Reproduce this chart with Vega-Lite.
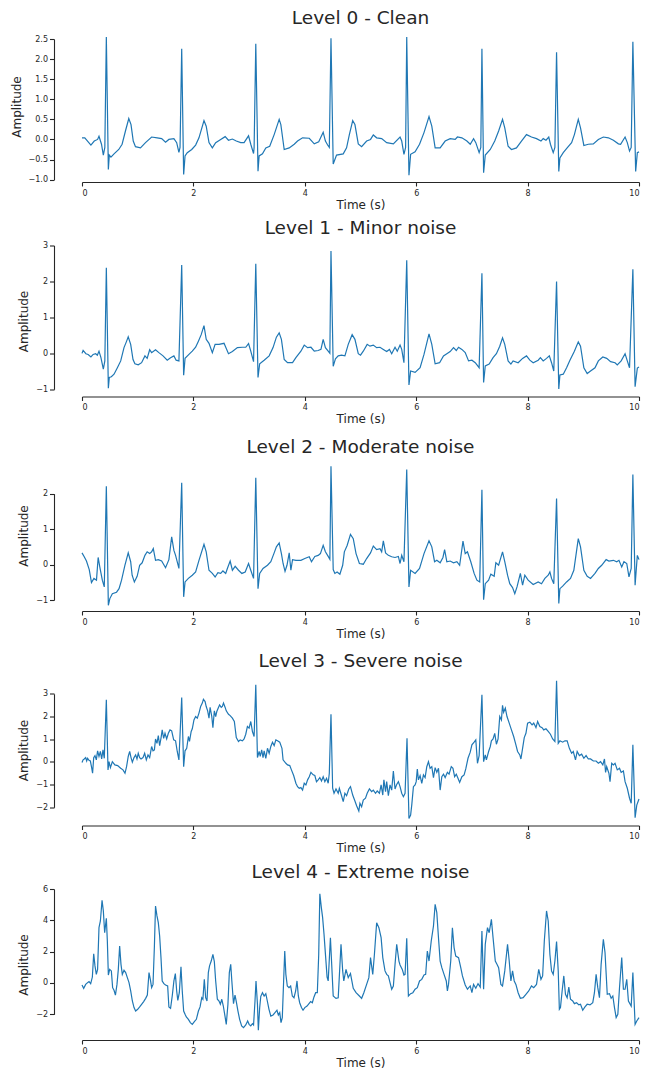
{
"$schema": "https://vega.github.io/schema/vega-lite/v6.json",
"background": "white",
"padding": {"left": 10, "top": 8, "right": 15, "bottom": 5},
"bounds": "flush",
"spacing": 63.5,
"config": {
  "view": {"stroke": null},
  "font": "DejaVu Sans",
  "axis": {"grid": false, "labelFont": "DejaVu Sans", "titleFont": "DejaVu Sans", "labelColor": "#262626", "titleColor": "#262626", "titleFontWeight": "normal", "titleFontSize": 12, "labelFontSize": 8, "tickColor": "#262626", "domainColor": "#262626", "domainWidth": 1.1, "tickWidth": 1.1},
  "axisX": {"tickSize": 4, "labelPadding": 3, "titlePadding": 2},
  "axisY": {"tickSize": 4.5, "labelPadding": 2, "titlePadding": 5, "offset": 28},
  "title": {"fontSize": 18.5, "fontWeight": "normal", "color": "#262626", "font": "DejaVu Sans", "frame": "group", "baseline": "alphabetic", "offset": 4},
  "line": {"color": "#1f77b4", "strokeWidth": 1.2}
},
"datasets": {
"L0": [
{"t":0,"v":0.04},{"t":0.05,"v":0.04},{"t":0.16,"v":-0.14},{"t":0.22,"v":-0.04},{"t":0.28,"v":0.0},{"t":0.305,"v":0.08},{"t":0.35,"v":-0.12},{"t":0.383,"v":-0.39},{"t":0.41,"v":-0.2},{"t":0.437,"v":2.55},{"t":0.473,"v":-0.75},{"t":0.49,"v":-0.39},{"t":0.52,"v":-0.44},{"t":0.575,"v":-0.36},{"t":0.66,"v":-0.25},{"t":0.72,"v":-0.12},{"t":0.78,"v":0.21},{"t":0.84,"v":0.52},{"t":0.88,"v":0.37},{"t":0.92,"v":-0.04},{"t":0.96,"v":-0.18},{"t":1.05,"v":-0.21},{"t":1.14,"v":-0.08},{"t":1.25,"v":0.06},{"t":1.35,"v":0.04},{"t":1.43,"v":0.02},{"t":1.5,"v":-0.07},{"t":1.56,"v":0.0},{"t":1.65,"v":0.02},{"t":1.7,"v":-0.08},{"t":1.74,"v":-0.32},{"t":1.76,"v":-0.2},{"t":1.79,"v":2.26},{"t":1.825,"v":-0.87},{"t":1.85,"v":-0.41},{"t":1.89,"v":-0.33},{"t":1.97,"v":-0.25},{"t":2.04,"v":-0.14},{"t":2.1,"v":0.04},{"t":2.19,"v":0.47},{"t":2.23,"v":0.33},{"t":2.28,"v":-0.08},{"t":2.34,"v":-0.21},{"t":2.4,"v":-0.08},{"t":2.49,"v":0.0},{"t":2.57,"v":0.07},{"t":2.63,"v":-0.02},{"t":2.7,"v":0.01},{"t":2.77,"v":-0.04},{"t":2.85,"v":-0.08},{"t":2.91,"v":-0.08},{"t":2.99,"v":0.09},{"t":3.03,"v":-0.12},{"t":3.08,"v":-0.35},{"t":3.09,"v":-0.2},{"t":3.12,"v":2.38},{"t":3.16,"v":-0.79},{"t":3.18,"v":-0.41},{"t":3.24,"v":-0.36},{"t":3.3,"v":-0.21},{"t":3.37,"v":-0.17},{"t":3.45,"v":0.12},{"t":3.54,"v":0.5},{"t":3.57,"v":0.37},{"t":3.63,"v":-0.25},{"t":3.72,"v":-0.21},{"t":3.81,"v":-0.12},{"t":3.87,"v":-0.04},{"t":3.96,"v":0.04},{"t":4.08,"v":0.03},{"t":4.17,"v":-0.11},{"t":4.25,"v":-0.06},{"t":4.33,"v":0.18},{"t":4.37,"v":-0.04},{"t":4.41,"v":-0.14},{"t":4.44,"v":-0.2},{"t":4.47,"v":2.52},{"t":4.51,"v":-0.61},{"t":4.57,"v":-0.39},{"t":4.69,"v":-0.36},{"t":4.75,"v":-0.21},{"t":4.8,"v":0.12},{"t":4.86,"v":0.47},{"t":4.9,"v":0.37},{"t":4.96,"v":-0.11},{"t":5.02,"v":-0.18},{"t":5.11,"v":-0.04},{"t":5.18,"v":0.0},{"t":5.23,"v":0.11},{"t":5.29,"v":0.04},{"t":5.38,"v":0.02},{"t":5.47,"v":-0.08},{"t":5.59,"v":-0.11},{"t":5.71,"v":0.06},{"t":5.74,"v":-0.04},{"t":5.78,"v":-0.37},{"t":5.81,"v":-0.2},{"t":5.83,"v":2.55},{"t":5.87,"v":-0.89},{"t":5.9,"v":-0.37},{"t":5.98,"v":-0.31},{"t":6.06,"v":-0.12},{"t":6.14,"v":0.17},{"t":6.23,"v":0.57},{"t":6.28,"v":0.33},{"t":6.34,"v":-0.21},{"t":6.43,"v":-0.21},{"t":6.52,"v":-0.04},{"t":6.61,"v":0.02},{"t":6.7,"v":0.0},{"t":6.74,"v":0.06},{"t":6.82,"v":0.04},{"t":6.91,"v":-0.04},{"t":6.97,"v":-0.12},{"t":7.03,"v":0.02},{"t":7.07,"v":-0.08},{"t":7.13,"v":-0.33},{"t":7.16,"v":-0.2},{"t":7.18,"v":2.26},{"t":7.21,"v":-0.83},{"t":7.24,"v":-0.39},{"t":7.33,"v":-0.25},{"t":7.41,"v":-0.04},{"t":7.48,"v":0.21},{"t":7.55,"v":0.5},{"t":7.59,"v":0.29},{"t":7.65,"v":-0.17},{"t":7.71,"v":-0.25},{"t":7.8,"v":-0.21},{"t":7.89,"v":-0.04},{"t":7.98,"v":0.12},{"t":8.07,"v":0.06},{"t":8.16,"v":0.02},{"t":8.24,"v":-0.04},{"t":8.28,"v":0.02},{"t":8.33,"v":-0.02},{"t":8.38,"v":0.06},{"t":8.41,"v":-0.12},{"t":8.46,"v":-0.33},{"t":8.49,"v":-0.2},{"t":8.52,"v":2.17},{"t":8.56,"v":-0.8},{"t":8.58,"v":-0.46},{"t":8.64,"v":-0.33},{"t":8.71,"v":-0.21},{"t":8.79,"v":-0.08},{"t":8.84,"v":0.12},{"t":8.91,"v":0.5},{"t":8.95,"v":0.29},{"t":9.01,"v":-0.15},{"t":9.09,"v":-0.12},{"t":9.18,"v":-0.11},{"t":9.27,"v":0.0},{"t":9.36,"v":0.06},{"t":9.45,"v":0.04},{"t":9.54,"v":-0.02},{"t":9.63,"v":-0.11},{"t":9.67,"v":-0.12},{"t":9.75,"v":0.06},{"t":9.79,"v":-0.08},{"t":9.83,"v":-0.29},{"t":9.86,"v":-0.2},{"t":9.89,"v":2.43},{"t":9.94,"v":-0.8},{"t":9.97,"v":-0.33},{"t":10.0,"v":-0.31}
],
"L1": [
{"t":0,"v":0.0},{"t":0.02,"v":0.08},{"t":0.07,"v":-0.01},{"t":0.11,"v":-0.03},{"t":0.16,"v":-0.1},{"t":0.2,"v":-0.03},{"t":0.245,"v":-0.01},{"t":0.275,"v":-0.05},{"t":0.305,"v":0.06},{"t":0.34,"v":-0.12},{"t":0.383,"v":-0.44},{"t":0.41,"v":-0.21},{"t":0.437,"v":2.38},{"t":0.473,"v":-0.97},{"t":0.49,"v":-0.67},{"t":0.527,"v":-0.65},{"t":0.575,"v":-0.58},{"t":0.635,"v":-0.4},{"t":0.695,"v":-0.21},{"t":0.754,"v":0.16},{"t":0.796,"v":0.32},{"t":0.83,"v":0.46},{"t":0.874,"v":0.25},{"t":0.916,"v":-0.17},{"t":0.95,"v":-0.29},{"t":1.01,"v":-0.32},{"t":1.07,"v":-0.26},{"t":1.13,"v":-0.07},{"t":1.17,"v":-0.14},{"t":1.215,"v":0.1},{"t":1.25,"v":0.02},{"t":1.32,"v":0.1},{"t":1.38,"v":0.02},{"t":1.455,"v":-0.07},{"t":1.53,"v":-0.19},{"t":1.59,"v":-0.12},{"t":1.65,"v":-0.07},{"t":1.69,"v":-0.19},{"t":1.74,"v":-0.21},{"t":1.79,"v":2.46},{"t":1.825,"v":-0.61},{"t":1.85,"v":-0.14},{"t":1.92,"v":-0.03},{"t":1.98,"v":0.06},{"t":2.04,"v":0.17},{"t":2.09,"v":0.34},{"t":2.14,"v":0.52},{"t":2.19,"v":0.77},{"t":2.23,"v":0.39},{"t":2.28,"v":0.28},{"t":2.34,"v":0.02},{"t":2.39,"v":0.25},{"t":2.46,"v":0.25},{"t":2.55,"v":0.28},{"t":2.63,"v":-0.01},{"t":2.7,"v":0.05},{"t":2.79,"v":0.16},{"t":2.88,"v":0.17},{"t":2.94,"v":0.17},{"t":2.99,"v":0.27},{"t":3.03,"v":0.06},{"t":3.08,"v":-0.23},{"t":3.12,"v":2.49},{"t":3.16,"v":-0.67},{"t":3.19,"v":-0.29},{"t":3.27,"v":-0.19},{"t":3.36,"v":-0.07},{"t":3.43,"v":0.16},{"t":3.49,"v":0.45},{"t":3.54,"v":0.57},{"t":3.58,"v":0.39},{"t":3.63,"v":-0.17},{"t":3.69,"v":-0.26},{"t":3.78,"v":-0.26},{"t":3.84,"v":-0.12},{"t":3.93,"v":0.06},{"t":3.99,"v":0.23},{"t":4.05,"v":0.16},{"t":4.11,"v":0.17},{"t":4.17,"v":0.06},{"t":4.24,"v":0.08},{"t":4.29,"v":0.11},{"t":4.33,"v":0.39},{"t":4.37,"v":0.16},{"t":4.42,"v":0.06},{"t":4.45,"v":0.0},{"t":4.47,"v":2.85},{"t":4.51,"v":-0.36},{"t":4.55,"v":-0.15},{"t":4.6,"v":-0.07},{"t":4.66,"v":-0.05},{"t":4.72,"v":-0.07},{"t":4.78,"v":0.25},{"t":4.85,"v":0.52},{"t":4.9,"v":0.39},{"t":4.96,"v":-0.01},{"t":5.0,"v":-0.05},{"t":5.05,"v":0.06},{"t":5.12,"v":0.25},{"t":5.17,"v":0.2},{"t":5.23,"v":0.23},{"t":5.29,"v":0.16},{"t":5.35,"v":0.17},{"t":5.41,"v":0.11},{"t":5.47,"v":0.05},{"t":5.52,"v":0.11},{"t":5.56,"v":-0.01},{"t":5.62,"v":0.17},{"t":5.66,"v":0.06},{"t":5.71,"v":0.23},{"t":5.74,"v":0.11},{"t":5.78,"v":-0.26},{"t":5.83,"v":2.59},{"t":5.87,"v":-0.88},{"t":5.9,"v":-0.49},{"t":5.98,"v":-0.53},{"t":6.07,"v":-0.4},{"t":6.14,"v":-0.03},{"t":6.23,"v":0.54},{"t":6.28,"v":0.25},{"t":6.34,"v":-0.29},{"t":6.42,"v":-0.26},{"t":6.49,"v":-0.07},{"t":6.55,"v":-0.01},{"t":6.61,"v":0.05},{"t":6.67,"v":0.16},{"t":6.72,"v":0.08},{"t":6.76,"v":0.17},{"t":6.82,"v":0.11},{"t":6.88,"v":0.02},{"t":6.94,"v":-0.21},{"t":7.0,"v":-0.19},{"t":7.06,"v":-0.26},{"t":7.13,"v":-0.4},{"t":7.18,"v":2.23},{"t":7.21,"v":-0.81},{"t":7.24,"v":-0.35},{"t":7.31,"v":-0.3},{"t":7.38,"v":-0.12},{"t":7.44,"v":-0.01},{"t":7.5,"v":0.2},{"t":7.55,"v":0.43},{"t":7.59,"v":0.25},{"t":7.65,"v":-0.21},{"t":7.7,"v":-0.3},{"t":7.74,"v":-0.21},{"t":7.83,"v":-0.26},{"t":7.91,"v":-0.14},{"t":7.98,"v":-0.07},{"t":8.04,"v":-0.19},{"t":8.1,"v":-0.26},{"t":8.19,"v":-0.19},{"t":8.23,"v":-0.12},{"t":8.28,"v":-0.21},{"t":8.34,"v":-0.14},{"t":8.39,"v":-0.07},{"t":8.43,"v":-0.26},{"t":8.47,"v":-0.49},{"t":8.52,"v":2.0},{"t":8.56,"v":-0.99},{"t":8.58,"v":-0.6},{"t":8.64,"v":-0.58},{"t":8.7,"v":-0.4},{"t":8.76,"v":-0.19},{"t":8.84,"v":0.06},{"t":8.91,"v":0.32},{"t":8.95,"v":0.2},{"t":9.01,"v":-0.4},{"t":9.07,"v":-0.56},{"t":9.13,"v":-0.49},{"t":9.21,"v":-0.4},{"t":9.27,"v":-0.21},{"t":9.35,"v":-0.1},{"t":9.42,"v":-0.14},{"t":9.49,"v":-0.23},{"t":9.57,"v":-0.26},{"t":9.61,"v":-0.32},{"t":9.68,"v":-0.21},{"t":9.75,"v":-0.01},{"t":9.79,"v":-0.21},{"t":9.83,"v":-0.4},{"t":9.89,"v":2.34},{"t":9.93,"v":-0.93},{"t":9.97,"v":-0.41},{"t":10.0,"v":-0.38}
],
"L2": [
{"t":0,"v":0.33},{"t":0.04,"v":0.22},{"t":0.08,"v":0.1},{"t":0.13,"v":-0.14},{"t":0.17,"v":-0.51},{"t":0.215,"v":-0.39},{"t":0.26,"v":-0.44},{"t":0.29,"v":0.2},{"t":0.32,"v":-0.07},{"t":0.365,"v":-0.44},{"t":0.4,"v":-0.63},{"t":0.437,"v":2.21},{"t":0.473,"v":-1.15},{"t":0.5,"v":-0.96},{"t":0.545,"v":-0.82},{"t":0.62,"v":-0.78},{"t":0.665,"v":-0.68},{"t":0.71,"v":-0.44},{"t":0.77,"v":-0.02},{"t":0.83,"v":0.33},{"t":0.874,"v":0.08},{"t":0.9,"v":-0.3},{"t":0.94,"v":-0.49},{"t":0.99,"v":-0.33},{"t":1.035,"v":-0.02},{"t":1.08,"v":0.05},{"t":1.13,"v":0.26},{"t":1.17,"v":0.36},{"t":1.215,"v":0.31},{"t":1.25,"v":0.36},{"t":1.28,"v":0.45},{"t":1.32,"v":0.12},{"t":1.37,"v":0.14},{"t":1.43,"v":0.1},{"t":1.5,"v":-0.09},{"t":1.56,"v":0.14},{"t":1.61,"v":0.78},{"t":1.65,"v":0.4},{"t":1.68,"v":0.26},{"t":1.74,"v":-0.11},{"t":1.79,"v":2.31},{"t":1.825,"v":-0.91},{"t":1.85,"v":-0.49},{"t":1.91,"v":-0.39},{"t":1.98,"v":-0.3},{"t":2.04,"v":-0.21},{"t":2.1,"v":0.12},{"t":2.19,"v":0.57},{"t":2.23,"v":0.36},{"t":2.28,"v":-0.16},{"t":2.34,"v":-0.25},{"t":2.39,"v":-0.35},{"t":2.44,"v":-0.23},{"t":2.49,"v":-0.25},{"t":2.53,"v":-0.18},{"t":2.58,"v":-0.25},{"t":2.61,"v":-0.11},{"t":2.66,"v":0.1},{"t":2.7,"v":-0.16},{"t":2.75,"v":-0.05},{"t":2.81,"v":-0.16},{"t":2.87,"v":-0.25},{"t":2.93,"v":-0.21},{"t":2.99,"v":0.03},{"t":3.03,"v":-0.16},{"t":3.08,"v":-0.39},{"t":3.12,"v":2.45},{"t":3.16,"v":-0.68},{"t":3.19,"v":-0.25},{"t":3.25,"v":-0.11},{"t":3.33,"v":-0.02},{"t":3.39,"v":0.08},{"t":3.45,"v":0.33},{"t":3.49,"v":0.5},{"t":3.54,"v":0.61},{"t":3.58,"v":0.31},{"t":3.61,"v":0.03},{"t":3.645,"v":-0.19},{"t":3.68,"v":-0.02},{"t":3.72,"v":0.33},{"t":3.75,"v":-0.16},{"t":3.78,"v":0.14},{"t":3.84,"v":0.12},{"t":3.93,"v":0.12},{"t":4.0,"v":0.17},{"t":4.08,"v":0.22},{"t":4.12,"v":0.08},{"t":4.18,"v":0.23},{"t":4.24,"v":0.26},{"t":4.28,"v":0.31},{"t":4.33,"v":0.54},{"t":4.37,"v":0.36},{"t":4.42,"v":0.23},{"t":4.45,"v":0.15},{"t":4.47,"v":2.77},{"t":4.51,"v":-0.14},{"t":4.54,"v":-0.25},{"t":4.58,"v":-0.21},{"t":4.63,"v":-0.27},{"t":4.68,"v":-0.02},{"t":4.71,"v":0.36},{"t":4.76,"v":0.54},{"t":4.82,"v":0.85},{"t":4.87,"v":0.73},{"t":4.92,"v":0.31},{"t":4.98,"v":0.03},{"t":5.05,"v":0.01},{"t":5.11,"v":0.17},{"t":5.18,"v":0.33},{"t":5.23,"v":0.52},{"t":5.29,"v":0.42},{"t":5.35,"v":0.45},{"t":5.38,"v":0.36},{"t":5.41,"v":0.67},{"t":5.45,"v":0.33},{"t":5.5,"v":0.26},{"t":5.56,"v":0.22},{"t":5.62,"v":0.2},{"t":5.68,"v":0.23},{"t":5.71,"v":0.03},{"t":5.74,"v":0.26},{"t":5.78,"v":0.08},{"t":5.83,"v":2.68},{"t":5.87,"v":-0.63},{"t":5.9,"v":-0.16},{"t":5.98,"v":-0.25},{"t":6.06,"v":-0.11},{"t":6.14,"v":0.31},{"t":6.23,"v":0.67},{"t":6.28,"v":0.5},{"t":6.33,"v":0.08},{"t":6.37,"v":0.12},{"t":6.43,"v":0.05},{"t":6.48,"v":0.2},{"t":6.51,"v":0.42},{"t":6.55,"v":0.08},{"t":6.61,"v":0.1},{"t":6.67,"v":0.05},{"t":6.73,"v":0.08},{"t":6.78,"v":-0.02},{"t":6.84,"v":0.66},{"t":6.88,"v":0.31},{"t":6.92,"v":0.36},{"t":6.98,"v":0.08},{"t":7.04,"v":-0.25},{"t":7.09,"v":-0.44},{"t":7.14,"v":-0.49},{"t":7.18,"v":2.11},{"t":7.21,"v":-0.99},{"t":7.24,"v":-0.54},{"t":7.3,"v":-0.44},{"t":7.34,"v":-0.27},{"t":7.4,"v":-0.33},{"t":7.43,"v":0.05},{"t":7.48,"v":-0.02},{"t":7.55,"v":0.36},{"t":7.59,"v":0.08},{"t":7.64,"v":-0.3},{"t":7.68,"v":-0.54},{"t":7.73,"v":-0.65},{"t":7.77,"v":-0.82},{"t":7.81,"v":-0.63},{"t":7.87,"v":-0.25},{"t":7.91,"v":-0.58},{"t":7.95,"v":-0.3},{"t":8.01,"v":-0.44},{"t":8.1,"v":-0.56},{"t":8.19,"v":-0.49},{"t":8.25,"v":-0.54},{"t":8.31,"v":-0.39},{"t":8.37,"v":-0.3},{"t":8.4,"v":-0.21},{"t":8.43,"v":-0.39},{"t":8.47,"v":-0.54},{"t":8.52,"v":1.86},{"t":8.56,"v":-1.1},{"t":8.58,"v":-0.68},{"t":8.63,"v":-0.61},{"t":8.7,"v":-0.49},{"t":8.77,"v":-0.39},{"t":8.83,"v":-0.16},{"t":8.91,"v":0.73},{"t":8.95,"v":0.5},{"t":9.01,"v":-0.16},{"t":9.07,"v":-0.33},{"t":9.13,"v":-0.39},{"t":9.21,"v":-0.25},{"t":9.27,"v":-0.11},{"t":9.33,"v":-0.02},{"t":9.41,"v":0.14},{"t":9.46,"v":0.1},{"t":9.54,"v":0.12},{"t":9.6,"v":0.08},{"t":9.64,"v":0.12},{"t":9.69,"v":-0.07},{"t":9.73,"v":0.08},{"t":9.78,"v":0.03},{"t":9.82,"v":-0.35},{"t":9.86,"v":-0.11},{"t":9.89,"v":2.54},{"t":9.93,"v":-0.58},{"t":9.97,"v":0.26},{"t":10.0,"v":0.14}
],
"L3": [
{"t":0,"v":-0.03},{"t":0.02,"v":0.09},{"t":0.04,"v":0.13},{"t":0.066,"v":0.19},{"t":0.084,"v":0.04},{"t":0.1,"v":0.16},{"t":0.126,"v":0.07},{"t":0.15,"v":0.04},{"t":0.17,"v":-0.21},{"t":0.19,"v":-0.5},{"t":0.21,"v":0.19},{"t":0.233,"v":0.28},{"t":0.257,"v":0.09},{"t":0.28,"v":0.49},{"t":0.305,"v":0.24},{"t":0.33,"v":0.46},{"t":0.353,"v":0.13},{"t":0.377,"v":0.53},{"t":0.4,"v":0.16},{"t":0.437,"v":2.74},{"t":0.467,"v":-0.35},{"t":0.485,"v":0.01},{"t":0.51,"v":-0.25},{"t":0.545,"v":0.01},{"t":0.59,"v":-0.13},{"t":0.64,"v":-0.16},{"t":0.694,"v":-0.28},{"t":0.736,"v":-0.35},{"t":0.772,"v":-0.5},{"t":0.8,"v":-0.21},{"t":0.83,"v":0.24},{"t":0.856,"v":0.46},{"t":0.88,"v":0.19},{"t":0.904,"v":-0.01},{"t":0.934,"v":0.19},{"t":0.963,"v":0.31},{"t":0.987,"v":0.13},{"t":1.01,"v":0.38},{"t":1.035,"v":0.19},{"t":1.06,"v":0.13},{"t":1.095,"v":0.19},{"t":1.125,"v":0.38},{"t":1.155,"v":0.09},{"t":1.185,"v":0.31},{"t":1.215,"v":0.19},{"t":1.25,"v":0.68},{"t":1.275,"v":0.49},{"t":1.3,"v":0.53},{"t":1.32,"v":1.01},{"t":1.346,"v":0.82},{"t":1.37,"v":1.16},{"t":1.394,"v":0.72},{"t":1.42,"v":1.07},{"t":1.44,"v":1.41},{"t":1.466,"v":1.04},{"t":1.49,"v":1.26},{"t":1.52,"v":1.01},{"t":1.55,"v":1.26},{"t":1.58,"v":1.41},{"t":1.61,"v":1.37},{"t":1.646,"v":0.97},{"t":1.68,"v":0.93},{"t":1.71,"v":0.46},{"t":1.74,"v":0.09},{"t":1.79,"v":2.84},{"t":1.825,"v":-0.21},{"t":1.85,"v":0.49},{"t":1.88,"v":0.6},{"t":1.91,"v":1.12},{"t":1.93,"v":0.9},{"t":1.96,"v":1.34},{"t":1.98,"v":1.46},{"t":2.01,"v":1.85},{"t":2.04,"v":2.0},{"t":2.07,"v":1.93},{"t":2.1,"v":2.15},{"t":2.13,"v":2.44},{"t":2.16,"v":2.59},{"t":2.18,"v":2.76},{"t":2.21,"v":2.66},{"t":2.23,"v":2.44},{"t":2.256,"v":2.25},{"t":2.28,"v":1.93},{"t":2.3,"v":2.4},{"t":2.33,"v":2.0},{"t":2.35,"v":1.51},{"t":2.376,"v":2.25},{"t":2.4,"v":2.0},{"t":2.42,"v":2.22},{"t":2.45,"v":2.4},{"t":2.47,"v":2.51},{"t":2.5,"v":2.4},{"t":2.52,"v":2.44},{"t":2.54,"v":2.59},{"t":2.57,"v":2.4},{"t":2.59,"v":2.25},{"t":2.63,"v":2.1},{"t":2.66,"v":2.04},{"t":2.7,"v":1.93},{"t":2.735,"v":1.78},{"t":2.77,"v":1.07},{"t":2.81,"v":0.9},{"t":2.84,"v":0.97},{"t":2.88,"v":0.93},{"t":2.91,"v":1.01},{"t":2.94,"v":1.22},{"t":2.97,"v":1.56},{"t":3.0,"v":1.49},{"t":3.03,"v":1.78},{"t":3.06,"v":1.34},{"t":3.09,"v":1.12},{"t":3.12,"v":3.4},{"t":3.15,"v":0.19},{"t":3.18,"v":0.46},{"t":3.2,"v":0.24},{"t":3.226,"v":0.53},{"t":3.25,"v":0.19},{"t":3.27,"v":0.49},{"t":3.3,"v":0.16},{"t":3.33,"v":0.6},{"t":3.36,"v":0.38},{"t":3.39,"v":0.68},{"t":3.42,"v":0.87},{"t":3.45,"v":0.72},{"t":3.48,"v":0.97},{"t":3.51,"v":0.93},{"t":3.55,"v":0.87},{"t":3.59,"v":0.6},{"t":3.61,"v":0.09},{"t":3.66,"v":-0.06},{"t":3.69,"v":-0.13},{"t":3.73,"v":-0.16},{"t":3.76,"v":-0.35},{"t":3.8,"v":-0.6},{"t":3.84,"v":-0.94},{"t":3.87,"v":-1.09},{"t":3.9,"v":-1.16},{"t":3.93,"v":-1.13},{"t":3.96,"v":-1.24},{"t":3.99,"v":-0.94},{"t":4.02,"v":-1.01},{"t":4.05,"v":-0.79},{"t":4.08,"v":-0.65},{"t":4.11,"v":-0.46},{"t":4.15,"v":-0.57},{"t":4.18,"v":-0.6},{"t":4.21,"v":-0.87},{"t":4.24,"v":-0.79},{"t":4.27,"v":-0.69},{"t":4.3,"v":-0.84},{"t":4.33,"v":-0.65},{"t":4.36,"v":-0.87},{"t":4.39,"v":-0.72},{"t":4.42,"v":-0.94},{"t":4.44,"v":-0.5},{"t":4.47,"v":2.1},{"t":4.5,"v":-1.16},{"t":4.525,"v":-1.38},{"t":4.56,"v":-1.19},{"t":4.6,"v":-1.38},{"t":4.62,"v":-1.16},{"t":4.66,"v":-1.49},{"t":4.69,"v":-1.75},{"t":4.72,"v":-1.38},{"t":4.75,"v":-1.49},{"t":4.79,"v":-1.19},{"t":4.82,"v":-1.09},{"t":4.86,"v":-1.46},{"t":4.9,"v":-1.72},{"t":4.93,"v":-1.93},{"t":4.97,"v":-2.16},{"t":4.99,"v":-1.82},{"t":5.02,"v":-1.97},{"t":5.05,"v":-1.68},{"t":5.09,"v":-1.6},{"t":5.12,"v":-1.38},{"t":5.16,"v":-1.19},{"t":5.2,"v":-1.31},{"t":5.23,"v":-1.24},{"t":5.27,"v":-1.38},{"t":5.3,"v":-1.28},{"t":5.34,"v":-1.38},{"t":5.37,"v":-1.01},{"t":5.4,"v":-1.46},{"t":5.42,"v":-0.79},{"t":5.45,"v":-1.31},{"t":5.47,"v":-0.87},{"t":5.5,"v":-1.49},{"t":5.53,"v":-1.01},{"t":5.56,"v":-1.24},{"t":5.59,"v":-0.4},{"t":5.62,"v":-1.19},{"t":5.65,"v":-0.99},{"t":5.68,"v":-0.87},{"t":5.71,"v":-1.09},{"t":5.74,"v":-1.38},{"t":5.77,"v":-1.53},{"t":5.8,"v":-1.38},{"t":5.835,"v":1.04},{"t":5.87,"v":-2.49},{"t":5.9,"v":-2.34},{"t":5.92,"v":-1.9},{"t":5.95,"v":-1.09},{"t":5.98,"v":-1.01},{"t":6.0,"v":-0.87},{"t":6.02,"v":-0.31},{"t":6.04,"v":-0.79},{"t":6.07,"v":-0.6},{"t":6.1,"v":-0.94},{"t":6.13,"v":-0.57},{"t":6.16,"v":-0.69},{"t":6.19,"v":-0.21},{"t":6.22,"v":0.01},{"t":6.25,"v":-0.28},{"t":6.28,"v":-0.21},{"t":6.31,"v":-0.69},{"t":6.34,"v":-0.25},{"t":6.37,"v":-0.46},{"t":6.4,"v":-0.28},{"t":6.43,"v":-1.24},{"t":6.46,"v":-0.65},{"t":6.49,"v":-0.54},{"t":6.52,"v":-0.69},{"t":6.56,"v":-0.46},{"t":6.59,"v":-0.54},{"t":6.63,"v":-0.21},{"t":6.66,"v":-0.28},{"t":6.69,"v":-0.65},{"t":6.72,"v":-0.54},{"t":6.75,"v":-0.72},{"t":6.78,"v":-0.9},{"t":6.82,"v":-0.65},{"t":6.86,"v":-0.57},{"t":6.89,"v":-0.31},{"t":6.93,"v":0.16},{"t":6.97,"v":0.43},{"t":7.0,"v":0.75},{"t":7.04,"v":0.87},{"t":7.07,"v":0.97},{"t":7.1,"v":-0.06},{"t":7.13,"v":0.28},{"t":7.18,"v":2.96},{"t":7.21,"v":0.01},{"t":7.24,"v":0.31},{"t":7.26,"v":0.09},{"t":7.3,"v":0.46},{"t":7.33,"v":0.68},{"t":7.35,"v":0.93},{"t":7.38,"v":1.01},{"t":7.41,"v":1.26},{"t":7.44,"v":0.78},{"t":7.47,"v":1.01},{"t":7.5,"v":2.0},{"t":7.53,"v":1.85},{"t":7.55,"v":2.49},{"t":7.57,"v":2.19},{"t":7.6,"v":2.37},{"t":7.63,"v":2.0},{"t":7.67,"v":1.71},{"t":7.71,"v":1.41},{"t":7.75,"v":1.12},{"t":7.79,"v":0.75},{"t":7.82,"v":0.46},{"t":7.86,"v":0.31},{"t":7.88,"v":0.13},{"t":7.91,"v":0.6},{"t":7.94,"v":1.07},{"t":7.97,"v":1.26},{"t":8.0,"v":1.71},{"t":8.04,"v":1.75},{"t":8.08,"v":1.63},{"t":8.11,"v":1.71},{"t":8.15,"v":1.51},{"t":8.18,"v":1.78},{"t":8.22,"v":1.56},{"t":8.26,"v":1.51},{"t":8.29,"v":1.41},{"t":8.33,"v":1.46},{"t":8.37,"v":1.34},{"t":8.41,"v":1.22},{"t":8.45,"v":1.01},{"t":8.49,"v":0.9},{"t":8.52,"v":3.57},{"t":8.55,"v":0.82},{"t":8.58,"v":0.93},{"t":8.63,"v":0.87},{"t":8.67,"v":0.93},{"t":8.71,"v":0.93},{"t":8.75,"v":0.6},{"t":8.79,"v":0.38},{"t":8.82,"v":0.46},{"t":8.86,"v":0.09},{"t":8.89,"v":0.46},{"t":8.93,"v":0.28},{"t":8.97,"v":0.34},{"t":9.01,"v":0.16},{"t":9.05,"v":0.28},{"t":9.09,"v":0.13},{"t":9.13,"v":0.13},{"t":9.18,"v":0.04},{"t":9.23,"v":0.04},{"t":9.27,"v":-0.06},{"t":9.31,"v":0.01},{"t":9.35,"v":-0.13},{"t":9.38,"v":0.13},{"t":9.4,"v":-0.46},{"t":9.42,"v":-0.21},{"t":9.46,"v":-0.5},{"t":9.48,"v":-0.87},{"t":9.51,"v":-0.06},{"t":9.54,"v":-0.13},{"t":9.57,"v":-0.06},{"t":9.61,"v":-0.35},{"t":9.65,"v":-0.28},{"t":9.68,"v":-0.46},{"t":9.72,"v":-0.4},{"t":9.75,"v":-0.87},{"t":9.79,"v":-1.16},{"t":9.83,"v":-1.6},{"t":9.86,"v":-1.82},{"t":9.89,"v":0.75},{"t":9.93,"v":-2.46},{"t":9.96,"v":-1.9},{"t":10.0,"v":-1.63}
],
"L4": [
{"t":0,"v":-0.13},{"t":0.03,"v":-0.34},{"t":0.066,"v":-0.09},{"t":0.1,"v":0.02},{"t":0.126,"v":0.09},{"t":0.156,"v":-0.04},{"t":0.186,"v":0.38},{"t":0.21,"v":1.87},{"t":0.233,"v":1.09},{"t":0.257,"v":0.55},{"t":0.28,"v":0.87},{"t":0.305,"v":3.53},{"t":0.33,"v":3.96},{"t":0.36,"v":5.28},{"t":0.383,"v":4.6},{"t":0.407,"v":3.21},{"t":0.437,"v":4.13},{"t":0.455,"v":2.68},{"t":0.473,"v":0.51},{"t":0.497,"v":0.87},{"t":0.527,"v":0.77},{"t":0.55,"v":-0.3},{"t":0.575,"v":-0.47},{"t":0.6,"v":-0.77},{"t":0.628,"v":-0.09},{"t":0.652,"v":0.87},{"t":0.676,"v":2.36},{"t":0.7,"v":1.19},{"t":0.724,"v":0.55},{"t":0.754,"v":0.81},{"t":0.784,"v":0.66},{"t":0.814,"v":0.34},{"t":0.844,"v":0.02},{"t":0.874,"v":-0.51},{"t":0.904,"v":-1.15},{"t":0.934,"v":-1.57},{"t":0.963,"v":-1.79},{"t":1.0,"v":-1.68},{"t":1.035,"v":-1.53},{"t":1.07,"v":-1.36},{"t":1.107,"v":-1.19},{"t":1.143,"v":-0.98},{"t":1.173,"v":-0.77},{"t":1.203,"v":0.66},{"t":1.227,"v":0.23},{"t":1.25,"v":-0.3},{"t":1.275,"v":-0.09},{"t":1.3,"v":2.36},{"t":1.32,"v":4.91},{"t":1.346,"v":4.28},{"t":1.37,"v":3.85},{"t":1.394,"v":3.0},{"t":1.418,"v":1.62},{"t":1.44,"v":0.13},{"t":1.47,"v":-0.04},{"t":1.5,"v":-0.13},{"t":1.538,"v":-0.19},{"t":1.56,"v":-1.53},{"t":1.59,"v":-1.62},{"t":1.62,"v":-0.83},{"t":1.65,"v":0.13},{"t":1.676,"v":0.6},{"t":1.7,"v":-0.51},{"t":1.72,"v":-1.11},{"t":1.747,"v":-0.62},{"t":1.777,"v":1.04},{"t":1.8,"v":-0.51},{"t":1.825,"v":-1.79},{"t":1.85,"v":-2.0},{"t":1.873,"v":-2.17},{"t":1.91,"v":-2.32},{"t":1.945,"v":-2.53},{"t":1.98,"v":-2.64},{"t":2.017,"v":-2.47},{"t":2.053,"v":-2.32},{"t":2.09,"v":-1.79},{"t":2.12,"v":-1.53},{"t":2.15,"v":-0.94},{"t":2.17,"v":-1.04},{"t":2.196,"v":0.23},{"t":2.22,"v":-0.94},{"t":2.244,"v":-1.15},{"t":2.268,"v":0.66},{"t":2.29,"v":1.09},{"t":2.32,"v":1.4},{"t":2.35,"v":1.83},{"t":2.376,"v":1.36},{"t":2.4,"v":0.13},{"t":2.43,"v":-1.04},{"t":2.46,"v":-1.15},{"t":2.484,"v":-1.36},{"t":2.51,"v":-1.04},{"t":2.537,"v":-1.47},{"t":2.567,"v":-2.11},{"t":2.59,"v":-2.64},{"t":2.62,"v":-1.36},{"t":2.645,"v":0.66},{"t":2.67,"v":1.19},{"t":2.69,"v":0.13},{"t":2.72,"v":-1.32},{"t":2.747,"v":-0.77},{"t":2.77,"v":-1.19},{"t":2.8,"v":-1.79},{"t":2.83,"v":-2.32},{"t":2.866,"v":-2.74},{"t":2.9,"v":-2.85},{"t":2.94,"v":-2.68},{"t":2.974,"v":-2.43},{"t":3.0,"v":-2.64},{"t":3.03,"v":-2.74},{"t":3.06,"v":-2.6},{"t":3.08,"v":-2.68},{"t":3.106,"v":-1.15},{"t":3.124,"v":0.13},{"t":3.15,"v":-1.36},{"t":3.166,"v":-3.02},{"t":3.19,"v":-1.57},{"t":3.21,"v":-0.85},{"t":3.24,"v":-0.62},{"t":3.27,"v":-0.83},{"t":3.3,"v":-0.68},{"t":3.327,"v":-1.15},{"t":3.357,"v":-1.68},{"t":3.39,"v":-2.11},{"t":3.43,"v":-2.04},{"t":3.465,"v":-1.89},{"t":3.5,"v":-1.74},{"t":3.525,"v":-2.04},{"t":3.55,"v":-1.89},{"t":3.573,"v":-2.53},{"t":3.596,"v":-2.21},{"t":3.62,"v":0.13},{"t":3.64,"v":2.04},{"t":3.66,"v":0.55},{"t":3.686,"v":-0.19},{"t":3.716,"v":-0.3},{"t":3.746,"v":-0.19},{"t":3.776,"v":-0.83},{"t":3.806,"v":-0.94},{"t":3.836,"v":-0.51},{"t":3.86,"v":0.13},{"t":3.884,"v":-0.83},{"t":3.908,"v":-1.26},{"t":3.94,"v":-1.57},{"t":3.968,"v":-1.74},{"t":4.0,"v":-1.57},{"t":4.04,"v":-1.47},{"t":4.075,"v":-1.32},{"t":4.105,"v":-1.19},{"t":4.135,"v":-1.26},{"t":4.165,"v":-0.89},{"t":4.195,"v":-0.62},{"t":4.225,"v":-0.62},{"t":4.25,"v":1.83},{"t":4.27,"v":5.7},{"t":4.297,"v":4.81},{"t":4.32,"v":4.17},{"t":4.345,"v":3.11},{"t":4.375,"v":1.62},{"t":4.4,"v":0.38},{"t":4.42,"v":0.13},{"t":4.46,"v":2.89},{"t":4.48,"v":1.4},{"t":4.51,"v":-0.83},{"t":4.56,"v":-0.98},{"t":4.6,"v":-0.94},{"t":4.65,"v":2.47},{"t":4.68,"v":0.77},{"t":4.7,"v":0.13},{"t":4.74,"v":0.87},{"t":4.78,"v":0.34},{"t":4.82,"v":0.6},{"t":4.87,"v":-0.34},{"t":4.92,"v":-0.62},{"t":4.98,"v":-0.83},{"t":5.02,"v":-0.98},{"t":5.06,"v":-0.62},{"t":5.11,"v":-0.09},{"t":5.15,"v":0.34},{"t":5.18,"v":1.62},{"t":5.22,"v":0.55},{"t":5.25,"v":1.83},{"t":5.29,"v":3.85},{"t":5.33,"v":3.53},{"t":5.37,"v":2.89},{"t":5.4,"v":1.62},{"t":5.44,"v":0.77},{"t":5.47,"v":0.55},{"t":5.5,"v":0.45},{"t":5.53,"v":0.02},{"t":5.56,"v":-0.4},{"t":5.59,"v":-0.19},{"t":5.62,"v":1.19},{"t":5.65,"v":2.47},{"t":5.69,"v":1.4},{"t":5.71,"v":1.15},{"t":5.75,"v":0.87},{"t":5.78,"v":0.51},{"t":5.8,"v":0.55},{"t":5.83,"v":2.85},{"t":5.86,"v":-0.83},{"t":5.9,"v":-0.68},{"t":5.94,"v":-0.62},{"t":5.98,"v":-0.4},{"t":6.02,"v":-0.3},{"t":6.06,"v":0.13},{"t":6.1,"v":0.23},{"t":6.14,"v":0.51},{"t":6.17,"v":0.55},{"t":6.2,"v":2.04},{"t":6.23,"v":1.4},{"t":6.27,"v":2.68},{"t":6.31,"v":3.64},{"t":6.34,"v":5.02},{"t":6.37,"v":4.49},{"t":6.4,"v":2.89},{"t":6.43,"v":1.4},{"t":6.46,"v":0.98},{"t":6.5,"v":0.55},{"t":6.54,"v":0.13},{"t":6.56,"v":-0.51},{"t":6.58,"v":-0.09},{"t":6.62,"v":1.4},{"t":6.65,"v":3.53},{"t":6.68,"v":2.26},{"t":6.71,"v":1.72},{"t":6.76,"v":1.62},{"t":6.8,"v":0.98},{"t":6.83,"v":0.45},{"t":6.88,"v":-0.13},{"t":6.92,"v":-0.4},{"t":6.97,"v":-0.19},{"t":7.0,"v":-0.62},{"t":7.03,"v":-0.09},{"t":7.07,"v":-0.34},{"t":7.11,"v":-0.04},{"t":7.15,"v":-0.26},{"t":7.18,"v":3.32},{"t":7.21,"v":-0.4},{"t":7.24,"v":2.47},{"t":7.28,"v":3.53},{"t":7.31,"v":3.21},{"t":7.35,"v":4.06},{"t":7.38,"v":2.89},{"t":7.42,"v":1.4},{"t":7.45,"v":1.19},{"t":7.48,"v":0.98},{"t":7.52,"v":-0.09},{"t":7.55,"v":-0.19},{"t":7.59,"v":0.77},{"t":7.64,"v":2.47},{"t":7.67,"v":1.4},{"t":7.7,"v":0.13},{"t":7.73,"v":0.77},{"t":7.76,"v":0.13},{"t":7.79,"v":-0.09},{"t":7.83,"v":-0.62},{"t":7.87,"v":-0.98},{"t":7.92,"v":-0.94},{"t":7.97,"v":-0.72},{"t":8.02,"v":-0.51},{"t":8.07,"v":-0.19},{"t":8.11,"v":-0.3},{"t":8.16,"v":-0.09},{"t":8.2,"v":0.87},{"t":8.24,"v":0.23},{"t":8.27,"v":0.45},{"t":8.3,"v":2.68},{"t":8.34,"v":4.6},{"t":8.37,"v":3.96},{"t":8.4,"v":1.83},{"t":8.43,"v":0.77},{"t":8.46,"v":0.55},{"t":8.49,"v":1.4},{"t":8.52,"v":2.64},{"t":8.55,"v":0.77},{"t":8.57,"v":-1.68},{"t":8.59,"v":-1.57},{"t":8.62,"v":-0.51},{"t":8.65,"v":0.45},{"t":8.68,"v":-0.72},{"t":8.71,"v":-0.94},{"t":8.74,"v":-0.26},{"t":8.77,"v":-1.04},{"t":8.81,"v":-1.15},{"t":8.84,"v":-1.32},{"t":8.88,"v":-1.26},{"t":8.92,"v":-1.4},{"t":8.95,"v":-1.36},{"t":8.99,"v":-1.74},{"t":9.03,"v":-1.53},{"t":9.07,"v":-1.36},{"t":9.12,"v":-1.4},{"t":9.17,"v":-1.26},{"t":9.2,"v":-0.62},{"t":9.23,"v":0.55},{"t":9.26,"v":-0.3},{"t":9.29,"v":-0.94},{"t":9.32,"v":1.19},{"t":9.36,"v":2.79},{"t":9.39,"v":1.94},{"t":9.43,"v":-0.72},{"t":9.47,"v":-0.68},{"t":9.5,"v":-0.98},{"t":9.53,"v":-0.83},{"t":9.56,"v":-1.57},{"t":9.59,"v":-2.21},{"t":9.62,"v":-2.0},{"t":9.65,"v":-0.3},{"t":9.69,"v":1.62},{"t":9.72,"v":-0.4},{"t":9.75,"v":-0.4},{"t":9.78,"v":0.23},{"t":9.81,"v":-1.15},{"t":9.86,"v":-1.47},{"t":9.89,"v":0.66},{"t":9.93,"v":-2.64},{"t":9.96,"v":-2.43},{"t":10.0,"v":-2.21}
]
},
"vconcat": [
{
  "data": {"name": "L0"}, "width": 557, "height": 151,
  "title": "Level 0 - Clean",
  "mark": {"type": "line"},
  "encoding": {
    "x": {"field": "t", "type": "quantitative", "scale": {"domain": [0, 10], "nice": false, "zero": false}, "axis": {"title": "Time (s)", "values": [0,2,4,6,8,10], "format": "d"}},
    "y": {"field": "v", "type": "quantitative", "scale": {"domain": [-1.06, 2.70], "nice": false, "zero": false}, "axis": {"title": "Amplitude", "values": [-1,-0.5,0,0.5,1,1.5,2,2.5], "format": ".1f", "domainDash": [140.56, 1000], "domainDashOffset": 1138.15}}
  }
},
{
  "data": {"name": "L1"}, "width": 557, "height": 151,
  "title": "Level 1 - Minor noise",
  "mark": {"type": "line"},
  "encoding": {
    "x": {"field": "t", "type": "quantitative", "scale": {"domain": [0, 10], "nice": false, "zero": false}, "axis": {"title": "Time (s)", "values": [0,2,4,6,8,10], "format": "d"}},
    "y": {"field": "v", "type": "quantitative", "scale": {"domain": [-1.2, 3.0], "nice": false, "zero": false}, "axis": {"title": "Amplitude", "values": [-1,0,1,2,3], "format": "d", "domainDash": [143.8, 1000], "domainDashOffset": 1136.61}}
  }
},
{
  "data": {"name": "L2"}, "width": 557, "height": 151,
  "title": "Level 2 - Moderate noise",
  "mark": {"type": "line"},
  "encoding": {
    "x": {"field": "t", "type": "quantitative", "scale": {"domain": [0, 10], "nice": false, "zero": false}, "axis": {"title": "Time (s)", "values": [0,2,4,6,8,10], "format": "d"}},
    "y": {"field": "v", "type": "quantitative", "scale": {"domain": [-1.31, 2.95], "nice": false, "zero": false}, "axis": {"title": "Amplitude", "values": [-1,0,1,2], "format": "d", "domainDash": [106.34, 1000], "domainDashOffset": 1095.35}}
  }
},
{
  "data": {"name": "L3"}, "width": 557, "height": 151,
  "title": "Level 3 - Severe noise",
  "mark": {"type": "line"},
  "encoding": {
    "x": {"field": "t", "type": "quantitative", "scale": {"domain": [0, 10], "nice": false, "zero": false}, "axis": {"title": "Time (s)", "values": [0,2,4,6,8,10], "format": "d"}},
    "y": {"field": "v", "type": "quantitative", "scale": {"domain": [-2.8, 3.85], "nice": false, "zero": false}, "axis": {"title": "Amplitude", "values": [-2,-1,0,1,2,3], "format": "d", "domainDash": [113.53, 1000], "domainDashOffset": 1095.36}}
  }
},
{
  "data": {"name": "L4"}, "width": 557, "height": 151,
  "title": "Level 4 - Extreme noise",
  "mark": {"type": "line"},
  "encoding": {
    "x": {"field": "t", "type": "quantitative", "scale": {"domain": [0, 10], "nice": false, "zero": false}, "axis": {"title": "Time (s)", "values": [0,2,4,6,8,10], "format": "d"}},
    "y": {"field": "v", "type": "quantitative", "scale": {"domain": [-3.64, 6.0], "nice": false, "zero": false}, "axis": {"title": "Amplitude", "values": [-2,0,2,4,6], "format": "d", "domainDash": [125.31, 1000], "domainDashOffset": 1099.62}}
  }
}
]
}
